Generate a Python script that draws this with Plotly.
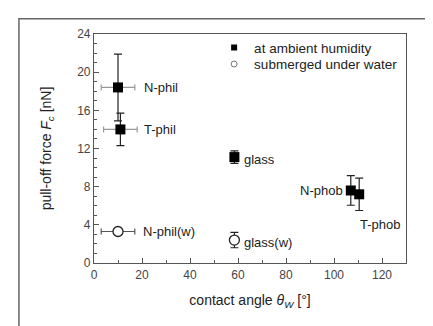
import plotly.graph_objects as go

# data
amb_names = ["N-phil", "T-phil", "glass", "N-phob", "T-phob"]
amb_x = [10, 11, 58.5, 107, 110.5]
amb_y = [18.4, 14.0, 11.1, 7.6, 7.2]
amb_yerr = [3.5, 1.7, 0.65, 1.55, 1.7]
amb_xerr = [7, 7, 0, 0, 0]

wat_names = ["N-phil(w)", "glass(w)"]
wat_x = [10, 58.5]
wat_y = [3.3, 2.4]
wat_yerr = [0.3, 0.8]
wat_xerr = [7, 0]

legend_labels = ["at ambient humidity", "submerged under water"]

fig = go.Figure()
fig.add_trace(go.Scatter(
    x=amb_x, y=amb_y, mode="markers", showlegend=False,
    marker=dict(symbol="square", size=10, color="black"),
    error_y=dict(type="data", array=amb_yerr, color="#222", thickness=1.2, width=4),
    error_x=dict(type="data", array=amb_xerr, color="#999", thickness=1.2, width=3),
))
fig.add_trace(go.Scatter(
    x=wat_x, y=wat_y, mode="markers", showlegend=False,
    marker=dict(symbol="circle", size=10, color="white", line=dict(color="#222", width=1.3)),
    error_y=dict(type="data", array=wat_yerr, color="#222", thickness=1.2, width=4),
    error_x=dict(type="data", array=wat_xerr, color="#555", thickness=1.2, width=3),
))
fig.add_trace(go.Scatter(x=[None], y=[None], mode="markers", name=legend_labels[0], legend="legend",
                         marker=dict(symbol="square", size=6, color="black")))
fig.add_trace(go.Scatter(x=[None], y=[None], mode="markers", name=legend_labels[1], legend="legend2",
                         marker=dict(symbol="circle", size=6, color="white", line=dict(color="#777", width=1))))

lab_font = dict(family="Liberation Sans, Arial", size=13, color="#222")
amb_off = [(24, 0, "left"), (22, 0, "left"), (8, -2, "left"), (-6, 0, "right"), (-1, -30, "left")]
for n, x, y, (dx, dy, al) in zip(amb_names, amb_x, amb_y, amb_off):
    fig.add_annotation(x=x, y=y, text=n, showarrow=False, xanchor=al,
                       xshift=dx, yshift=dy, font=lab_font)
wat_off = [(23, 0), (8, -2)]
for n, x, y, (dx, dy) in zip(wat_names, wat_x, wat_y, wat_off):
    fig.add_annotation(x=x, y=y, text=n, showarrow=False, xanchor="left",
                       xshift=dx, yshift=dy, font=lab_font)

axis_common = dict(
    showline=True, linecolor="#555", linewidth=1.2, mirror=True, automargin=False,
    ticks="inside", ticklen=5, tickcolor="#555", showgrid=False, zeroline=False,
    tickfont=dict(family="Liberation Sans, Arial", size=12, color="#444"),
)
fig.update_xaxes(range=[0, 130], tickvals=[0, 20, 40, 60, 80, 100, 120],
                 minor=dict(ticks="inside", ticklen=3, dtick=10, tickcolor="#555"),
                 title=dict(text="contact angle <i>θ</i><sub><i>W</i></sub> [°]",
                            font=dict(family="Liberation Sans, Arial", size=14, color="#222"),
                            standoff=14),
                 **axis_common)
fig.update_yaxes(range=[0, 24], tickvals=[0, 4, 8, 12, 16, 20, 24],
                 minor=dict(ticks="inside", ticklen=3, dtick=1, tickcolor="#555"),
                 title=dict(text="pull-off force <i>F</i><sub><i>c</i></sub> [nN]",
                            font=dict(family="Liberation Sans, Arial", size=14, color="#222"),
                            standoff=22),
                 **axis_common)

OFF = 8
L, R, T, B = 94 - OFF, 405.7 - OFF, 34.3 - OFF, 263.3 - OFF
W, H = 433, 326
pw, ph = R - L, B - T
fig.add_shape(type="rect", xref="paper", yref="paper",
              x0=(11 - L) / pw, x1=(431 - L) / pw,
              y0=(B - 340) / ph, y1=(B - 11) / ph,
              line=dict(color="#666", width=1.5), fillcolor="rgba(0,0,0,0)", layer="below")

leg_common = dict(x=0.385, xanchor="left", yanchor="middle",
                  font=dict(family="Liberation Sans, Arial", size=13.5, color="#222"),
                  bgcolor="rgba(0,0,0,0)", itemwidth=30)
fig.update_layout(
    width=W, height=H,
    margin=dict(l=L, r=W - R, t=T, b=H - B, autoexpand=False),
    paper_bgcolor="white", plot_bgcolor="white",
    legend=dict(y=0.940, **leg_common),
    legend2=dict(y=0.868, **leg_common),
    font=dict(family="Liberation Sans, Arial"),
)
fig.write_html("out.html")
